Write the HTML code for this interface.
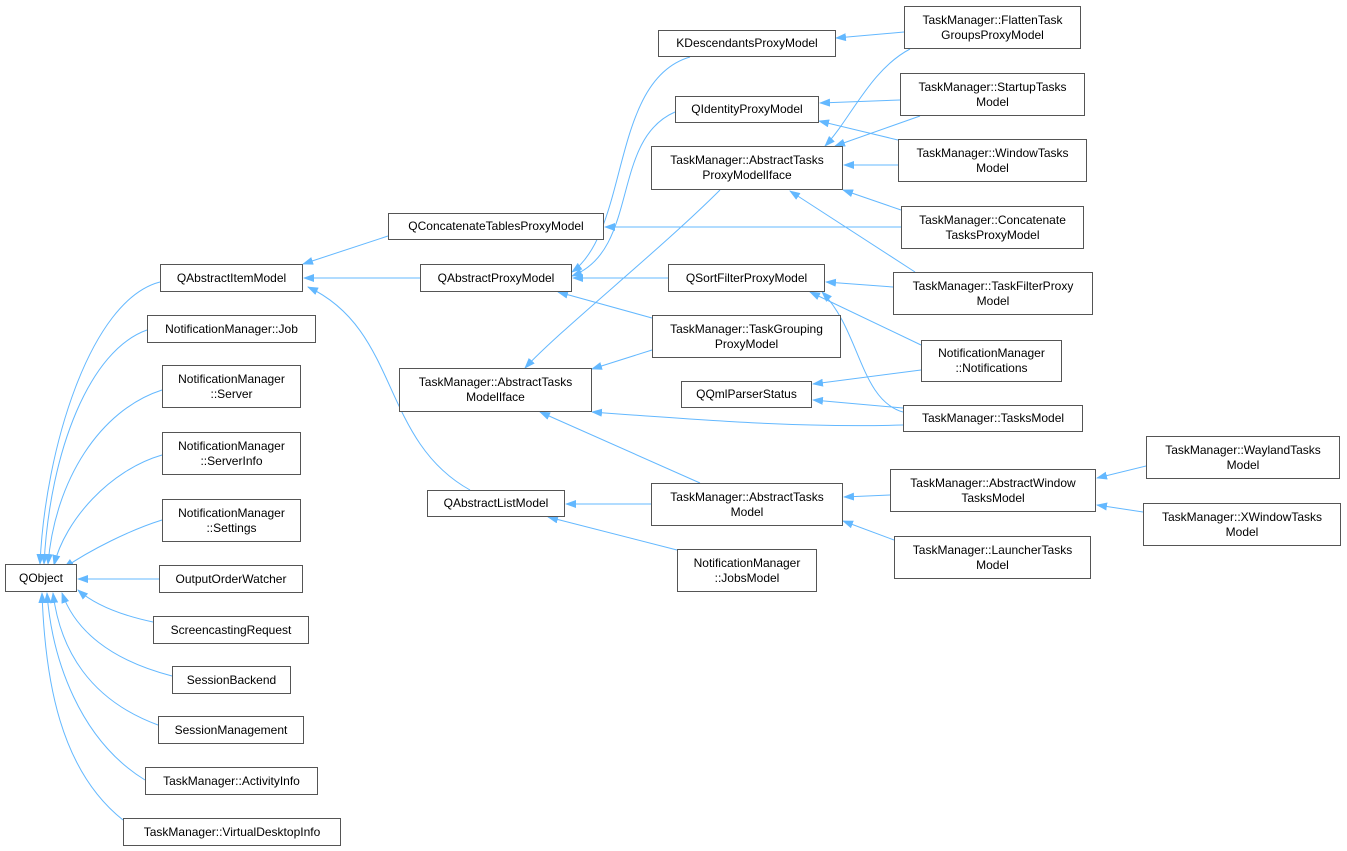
<!DOCTYPE html>
<html><head><meta charset="utf-8"><style>
body{margin:0;width:1347px;height:851px;background:#fff;position:relative;overflow:hidden;font-family:"Liberation Sans",sans-serif;}
.b{position:absolute;border:1px solid #555;background:#fff;box-sizing:border-box;font-size:12px;line-height:15px;color:#000;text-align:center;display:flex;align-items:center;justify-content:center;white-space:nowrap}
svg{position:absolute;left:0;top:0}
</style></head><body>
<svg width="1347" height="851">
<defs><marker id="a" markerWidth="11" markerHeight="8" refX="10" refY="4" orient="auto" markerUnits="userSpaceOnUse"><path d="M0,0 L11,4 L0,8 z" fill="#63b8ff"/></marker></defs>
<g fill="none" stroke="#63b8ff" stroke-width="1" marker-end="url(#a)">
<path d="M160,282 C90,300 45,450 40,564"/>
<path d="M147,330 C90,350 50,450 44,564"/>
<path d="M162,390 C100,410 55,480 48,564"/>
<path d="M162,455 C110,470 65,520 54,565"/>
<path d="M162,520 C130,530 90,550 64,568"/>
<path d="M159,579 L78,579"/>
<path d="M153,622 C120,615 95,605 78,590"/>
<path d="M172,676 C110,660 75,630 62,593"/>
<path d="M158,725 C90,700 60,650 53,593"/>
<path d="M145,780 C80,740 52,660 47,593"/>
<path d="M123,820 C60,770 45,680 42,593"/>
<path d="M388,236 L303,264"/>
<path d="M420,278 L304,278"/>
<path d="M470,490 C380,440 400,330 308,287"/>
<path d="M690,57 C610,80 630,230 572,272"/>
<path d="M675,112 C610,140 640,250 572,276"/>
<path d="M668,278 L573,278"/>
<path d="M652,318 L558,292"/>
<path d="M652,350 L592,369"/>
<path d="M720,190 C660,250 560,330 525,368"/>
<path d="M700,483 L540,412"/>
<path d="M651,504 L566,504"/>
<path d="M677,550 L548,517"/>
<path d="M904,32 L836,38"/>
<path d="M910,49 C870,70 850,120 825,146"/>
<path d="M900,100 L820,103"/>
<path d="M920,116 L835,146"/>
<path d="M898,140 L819,121"/>
<path d="M898,165 L844,165"/>
<path d="M901,210 L843,190"/>
<path d="M901,227 L605,227"/>
<path d="M893,287 L826,282"/>
<path d="M915,272 L790,191"/>
<path d="M921,345 L810,292"/>
<path d="M921,370 L813,384"/>
<path d="M903,412 C860,400 860,330 822,292"/>
<path d="M903,408 L813,400"/>
<path d="M903,425 C800,428 700,420 592,412"/>
<path d="M890,495 L844,497"/>
<path d="M894,540 L843,521"/>
<path d="M1146,466 L1097,478"/>
<path d="M1143,512 L1097,505"/>
</g></svg>
<div class="b" style="left:5px;top:564px;width:72px;height:28px">QObject</div>
<div class="b" style="left:160px;top:264px;width:143px;height:28px">QAbstractItemModel</div>
<div class="b" style="left:147px;top:315px;width:169px;height:28px">NotificationManager::Job</div>
<div class="b" style="left:162px;top:365px;width:139px;height:43px">NotificationManager<br>::Server</div>
<div class="b" style="left:162px;top:432px;width:139px;height:43px">NotificationManager<br>::ServerInfo</div>
<div class="b" style="left:162px;top:499px;width:139px;height:43px">NotificationManager<br>::Settings</div>
<div class="b" style="left:159px;top:565px;width:144px;height:28px">OutputOrderWatcher</div>
<div class="b" style="left:153px;top:616px;width:156px;height:28px">ScreencastingRequest</div>
<div class="b" style="left:172px;top:666px;width:119px;height:28px">SessionBackend</div>
<div class="b" style="left:158px;top:716px;width:146px;height:28px">SessionManagement</div>
<div class="b" style="left:145px;top:767px;width:173px;height:28px">TaskManager::ActivityInfo</div>
<div class="b" style="left:123px;top:818px;width:218px;height:28px">TaskManager::VirtualDesktopInfo</div>
<div class="b" style="left:388px;top:213px;width:216px;height:27px">QConcatenateTablesProxyModel</div>
<div class="b" style="left:420px;top:264px;width:152px;height:28px">QAbstractProxyModel</div>
<div class="b" style="left:399px;top:368px;width:193px;height:44px">TaskManager::AbstractTasks<br>ModelIface</div>
<div class="b" style="left:427px;top:490px;width:138px;height:27px">QAbstractListModel</div>
<div class="b" style="left:658px;top:30px;width:178px;height:27px">KDescendantsProxyModel</div>
<div class="b" style="left:675px;top:96px;width:144px;height:27px">QIdentityProxyModel</div>
<div class="b" style="left:651px;top:146px;width:192px;height:44px">TaskManager::AbstractTasks<br>ProxyModelIface</div>
<div class="b" style="left:668px;top:264px;width:157px;height:28px">QSortFilterProxyModel</div>
<div class="b" style="left:652px;top:315px;width:189px;height:43px">TaskManager::TaskGrouping<br>ProxyModel</div>
<div class="b" style="left:681px;top:381px;width:131px;height:27px">QQmlParserStatus</div>
<div class="b" style="left:651px;top:483px;width:192px;height:43px">TaskManager::AbstractTasks<br>Model</div>
<div class="b" style="left:677px;top:549px;width:140px;height:43px">NotificationManager<br>::JobsModel</div>
<div class="b" style="left:904px;top:6px;width:177px;height:43px">TaskManager::FlattenTask<br>GroupsProxyModel</div>
<div class="b" style="left:900px;top:73px;width:185px;height:43px">TaskManager::StartupTasks<br>Model</div>
<div class="b" style="left:898px;top:139px;width:189px;height:43px">TaskManager::WindowTasks<br>Model</div>
<div class="b" style="left:901px;top:206px;width:183px;height:43px">TaskManager::Concatenate<br>TasksProxyModel</div>
<div class="b" style="left:893px;top:272px;width:200px;height:43px">TaskManager::TaskFilterProxy<br>Model</div>
<div class="b" style="left:921px;top:340px;width:141px;height:42px">NotificationManager<br>::Notifications</div>
<div class="b" style="left:903px;top:405px;width:180px;height:27px">TaskManager::TasksModel</div>
<div class="b" style="left:890px;top:469px;width:206px;height:43px">TaskManager::AbstractWindow<br>TasksModel</div>
<div class="b" style="left:894px;top:536px;width:197px;height:43px">TaskManager::LauncherTasks<br>Model</div>
<div class="b" style="left:1146px;top:436px;width:194px;height:43px">TaskManager::WaylandTasks<br>Model</div>
<div class="b" style="left:1143px;top:503px;width:198px;height:43px">TaskManager::XWindowTasks<br>Model</div>
</body></html>
